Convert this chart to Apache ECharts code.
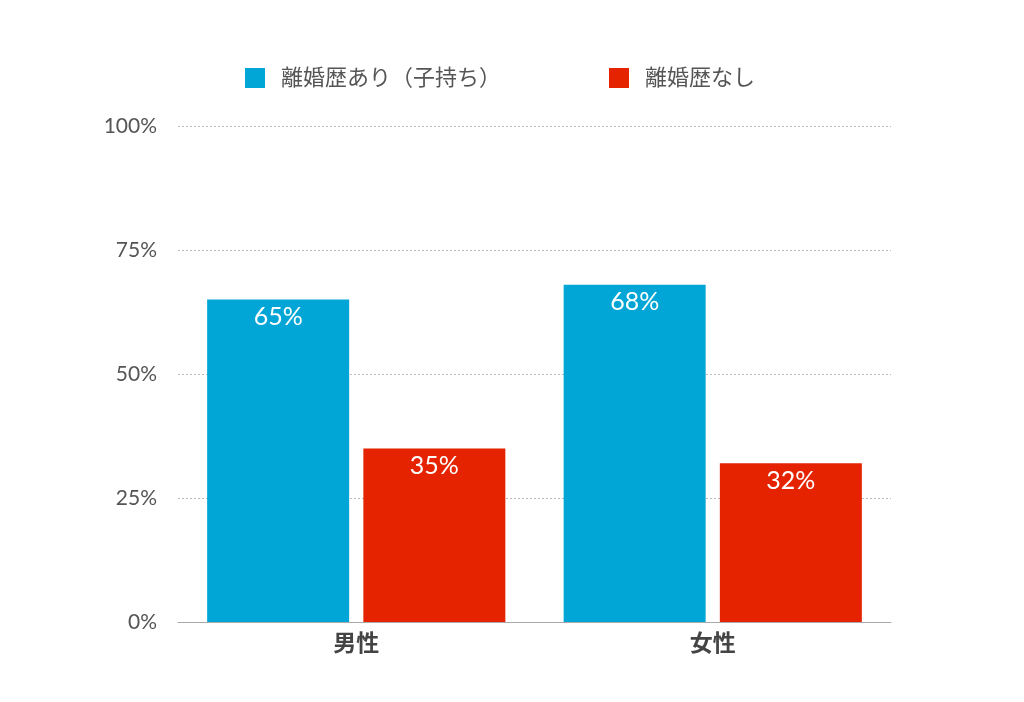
<!DOCTYPE html>
<html>
<head>
<meta charset="utf-8">
<script src="https://cdn.jsdelivr.net/npm/echarts@6/dist/echarts.min.js"></script>
<style>
  html, body { margin: 0; padding: 0; background: #fff; }
  #chart { width: 1024px; height: 702px; }
</style>
</head>
<body>
<div id="chart"></div>
<script>
const categories = ["男性", "女性"];
const seriesNames = ["離婚歴あり（子持ち）", "離婚歴なし"];
const withHistory = [65, 68];
const withoutHistory = [35, 32];
const yTicks = [0, 25, 50, 75, 100];

const fontFamily = "Lato, 'Noto Sans CJK JP', sans-serif";
const chart = echarts.init(document.getElementById("chart"));

const barLabel = {
  show: true,
  position: "insideTop",
  distance: 5,
  color: "#fff",
  fontSize: 25,
  fontFamily: fontFamily,
  formatter: (p) => p.value + "%",
};

chart.setOption({
  animation: false,
  textStyle: { fontFamily: fontFamily },
  legend: {
    top: 62,
    left: 240,
    itemWidth: 20,
    itemHeight: 20,
    itemGap: 108,
    icon: "rect",
    textStyle: { fontSize: 22, color: "#555", padding: [0, 0, 0, 11] },
    data: seriesNames,
  },
  grid: { left: 178, right: 133, top: 126, bottom: 80, containLabel: false },
  xAxis: {
    type: "category",
    data: categories,
    axisTick: { show: false },
    axisLine: { lineStyle: { color: "#aaa" } },
    axisLabel: { fontSize: 23, fontWeight: "bold", color: "#444", margin: 10 },
  },
  yAxis: {
    type: "value",
    min: yTicks[0],
    max: yTicks[yTicks.length - 1],
    interval: 25,
    axisLine: { show: false },
    axisTick: { show: false },
    axisLabel: { fontSize: 21, color: "#555", margin: 21, formatter: "{value}%" },
    splitLine: { lineStyle: { color: "#bbb", type: [2, 2] } },
  },
  series: [
    {
      name: seriesNames[0],
      type: "bar",
      data: withHistory,
      barWidth: 142,
      barGap: "10%",
      itemStyle: { color: "#02a6d6" },
      label: barLabel,
    },
    {
      name: seriesNames[1],
      type: "bar",
      data: withoutHistory,
      barWidth: 142,
      itemStyle: { color: "#e52300" },
      label: barLabel,
    },
  ],
});
</script>
</body>
</html>
